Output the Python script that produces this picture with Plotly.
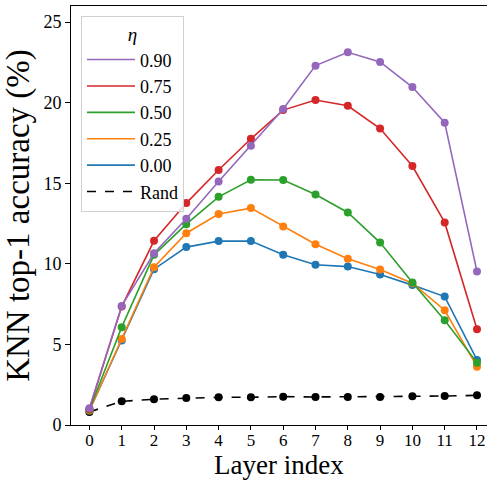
import plotly.graph_objects as go

layers = list(range(13))
eta_labels = ["0.90", "0.75", "0.50", "0.25", "0.00"]
acc_090 = [1.04, 7.39, 10.66, 12.80, 15.11, 17.33, 19.61, 22.30, 23.13, 22.53, 20.97, 18.76, 9.52]
acc_075 = [1.00, 7.35, 11.43, 13.77, 15.82, 17.76, 19.54, 20.17, 19.81, 18.40, 16.07, 12.57, 5.94]
acc_050 = [0.95, 6.07, 10.56, 12.46, 14.16, 15.22, 15.20, 14.30, 13.19, 11.32, 8.84, 6.50, 3.87]
acc_025 = [0.90, 5.34, 9.79, 11.90, 13.09, 13.46, 12.32, 11.22, 10.31, 9.65, 8.80, 7.12, 3.62]
acc_000 = [0.90, 5.24, 9.67, 11.04, 11.41, 11.41, 10.56, 9.94, 9.83, 9.34, 8.68, 7.97, 4.04]
acc_rand = [0.81, 1.47, 1.60, 1.68, 1.72, 1.72, 1.76, 1.74, 1.74, 1.74, 1.78, 1.80, 1.84]
x_ticks = list(range(13))
y_ticks = [0, 5, 10, 15, 20, 25]

series = {"0.90": acc_090, "0.75": acc_075, "0.50": acc_050, "0.25": acc_025, "0.00": acc_000}
colors = {"0.90": "#9467bd", "0.75": "#d62728", "0.50": "#2ca02c", "0.25": "#ff7f0e", "0.00": "#1f77b4"}

FONT = "Liberation Serif"
fig = go.Figure()

# data traces (drawn order: Rand, 0.00 ... 0.90)
fig.add_trace(go.Scatter(x=layers, y=acc_rand, mode="lines+markers",
                         line=dict(color="black", width=1.6, dash="dash"),
                         marker=dict(color="black", size=8), showlegend=False))
for lab in reversed(eta_labels):
    fig.add_trace(go.Scatter(x=layers, y=series[lab], mode="lines+markers",
                             line=dict(color=colors[lab], width=1.6),
                             marker=dict(color=colors[lab], size=8), showlegend=False))

# legend entries (lines only)
for lab in eta_labels:
    fig.add_trace(go.Scatter(x=[None], y=[None], mode="lines", name=lab,
                             line=dict(color=colors[lab], width=1.6)))
fig.add_trace(go.Scatter(x=[None], y=[None], mode="lines", name="Rand",
                         line=dict(color="black", width=1.6, dash="dash")))

PLOT_H = 481 - 6 - 56

fig.update_layout(
    width=487, height=481,
    margin=dict(l=71, r=0, t=6, b=56),
    plot_bgcolor="white", paper_bgcolor="white",
    font=dict(family=FONT, size=18, color="black"),
    showlegend=True,
    legend=dict(
        title=dict(text="<i>η</i>", side="top center", font=dict(size=19)),
        x=0.024, y=0.977, xanchor="left", yanchor="top",
        bgcolor="rgba(255,255,255,0.8)", bordercolor="#d0d0d0", borderwidth=1,
        font=dict(size=18), traceorder="normal", itemwidth=48, tracegroupgap=0,
    ),
    xaxis=dict(
        range=[-0.57, 12.31], tickmode="array", tickvals=x_ticks,
        ticktext=[str(v) for v in x_ticks], tickfont=dict(size=17),
        ticklabelstandoff=-4,
        showgrid=False, zeroline=False, showline=True, linecolor="black", linewidth=1,
        mirror=True, ticks="outside", ticklen=4, tickcolor="black",
    ),
    yaxis=dict(
        range=[0, 26.0], tickmode="array", tickvals=y_ticks,
        ticktext=[str(v) for v in y_ticks], tickfont=dict(size=18),
        showgrid=False, zeroline=False, showline=True, linecolor="black", linewidth=1,
        mirror=True, ticks="outside", ticklen=5, tickcolor="black",
        title=dict(text="KNN top-1 accuracy (%)", font=dict(size=33), standoff=4),
    ),
    annotations=[dict(
        text="Layer index", xref="paper", yref="paper",
        x=(279 - 71) / 416, y=-(481 - 425) / PLOT_H, xanchor="center", yanchor="bottom",
        showarrow=False, font=dict(size=27, family=FONT, color="black"), borderpad=0,
    )],
)

fig.write_html("out.html")
